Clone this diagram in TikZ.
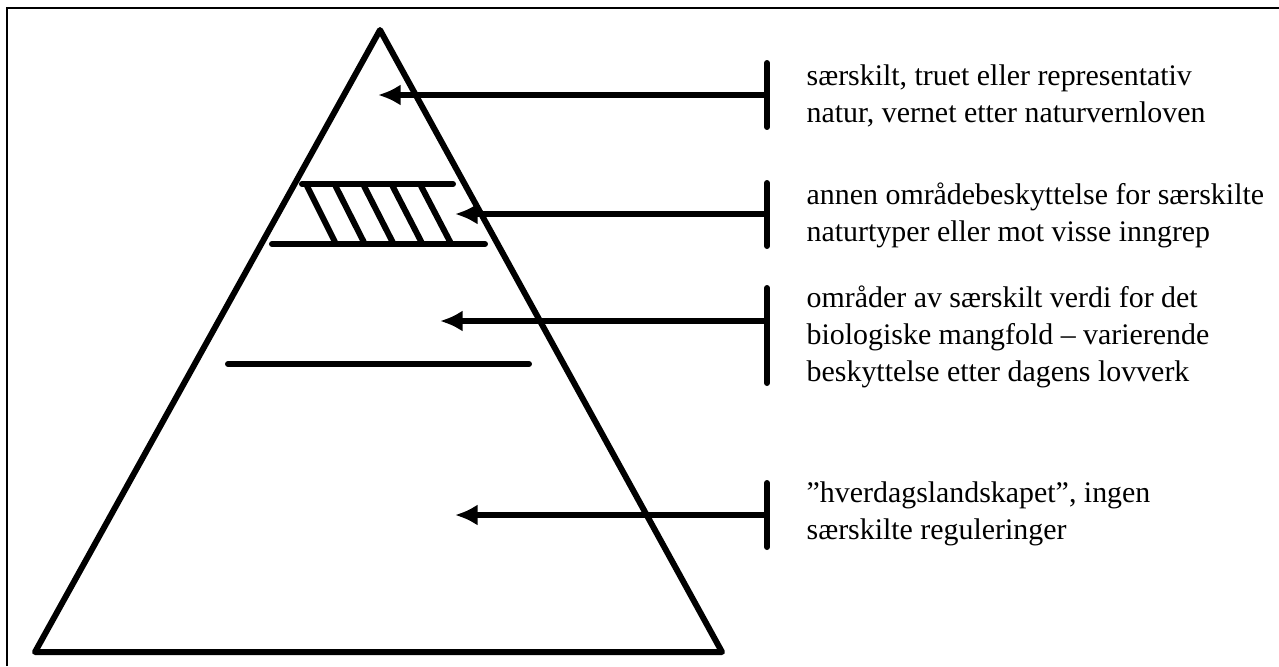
\documentclass[tikz,border=0pt]{standalone}
\usepackage{fontspec}
\setmainfont{Liberation Serif}
\usetikzlibrary{arrows.meta,calc}

\tikzset{
  level/.style={line width=1.7pt,line cap=round},
  pointer/.style={line width=1.7pt,-{Latex[length=6.4pt,width=6pt]}},
  stopbar/.style={line width=1.7pt,line cap=round},
  label/.style={anchor=west,align=left,inner sep=0pt,font=\fontsize{8.5pt}{10.5pt}\selectfont}
}

\begin{document}
\begin{tikzpicture}[x=0.01cm,y=-0.01cm]
      \useasboundingbox (0,0) rectangle (1279,666);
      % frame
      \draw[line width=0.6pt] (7,666) -- (7,8) -- (1279,8);
      % pyramid
      \coordinate (apex) at (380,30);
      \coordinate (baseL) at (35,652);
      \coordinate (baseR) at (722,652);
      \draw[level,line join=round] (apex) -- (baseL) -- (baseR) -- cycle;
      % hatched band
      \draw[level] (302,184) -- (453,184);
      \draw[level] (272,244) -- (485,244);
      \foreach \k in {0,...,4}
        \draw[level] (307+28.5*\k,186) -- (335+28.8*\k,242);
      % lower level
      \draw[level] (228,364) -- (529,364);
      % bars and tips
      \coordinate (bar1) at (767,95);
      \coordinate (tip1) at (378,95);
      \coordinate (bar2) at (767,214);
      \coordinate (tip2) at (455,214);
      \coordinate (bar3) at (767,321);
      \coordinate (tip3) at (440,321);
      \coordinate (bar4) at (767,515);
      \coordinate (tip4) at (455,515);
      \draw[stopbar] (767,63) -- (767,127);
      \draw[stopbar] (767,183) -- (767,246);
      \draw[stopbar] (767,288) -- (767,383);
      \draw[stopbar] (767,483) -- (767,547);
      \draw[pointer] (bar1) -- (tip1);
      \draw[pointer] (bar2) -- (tip2);
      \draw[pointer] (bar3) -- (tip3);
      \draw[pointer] (bar4) -- (tip4);
      % texts
      \node[label] (text1) at (806,96) {særskilt, truet eller representativ\\natur, vernet etter naturvernloven};
      \node[label] (text2) at (806,215) {annen områdebeskyttelse for særskilte\\naturtyper eller mot visse inngrep};
      \node[label] (text3) at (806,337) {områder av særskilt verdi for det\\biologiske mangfold -- varierende\\beskyttelse etter dagens lovverk};
      \node[label] (text4) at (806,514) {”hverdagslandskapet”, ingen\\særskilte reguleringer};
\end{tikzpicture}
\end{document}
